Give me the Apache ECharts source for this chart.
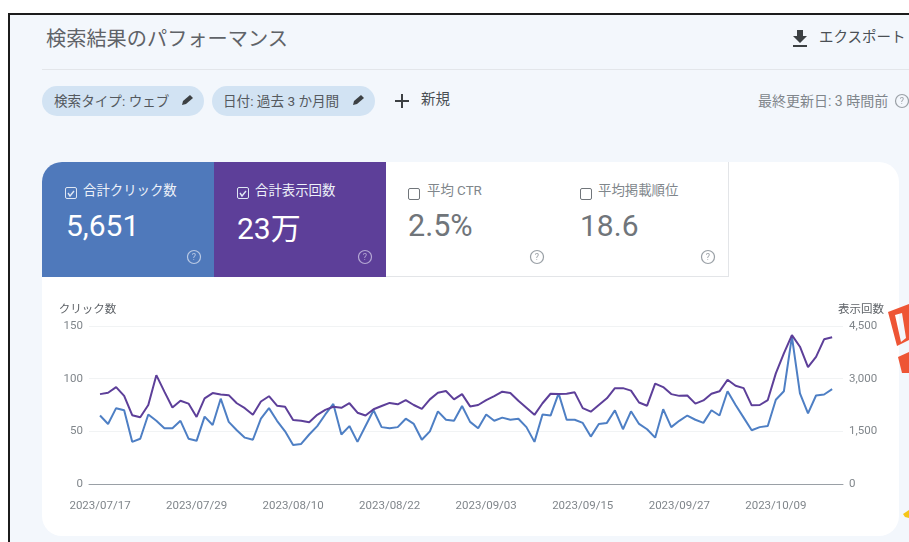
<!DOCTYPE html>
<html lang="ja">
<head>
<meta charset="utf-8">
<title>検索結果のパフォーマンス</title>
<script src="https://cdn.jsdelivr.net/npm/echarts@6/dist/echarts.min.js"></script>
<style>
  html, body { margin: 0; padding: 0; background: #fff; }
  body { width: 909px; height: 542px; overflow: hidden; position: relative;
    font-family: Roboto, "Noto Sans CJK JP", sans-serif; color: #5f6368; }
  .page { position: absolute; left: 8px; top: 13px; width: 901px; height: 529px; background: #f3f7fc;
    border-left: 2px solid #1c1c1c; border-top: 2px solid #1c1c1c; box-sizing: border-box; }
  .abs { position: absolute; white-space: nowrap; }
  .rule { position: absolute; left: 42px; top: 69px; width: 867px; height: 1px; background: #e3e6ea; }
  .chip { position: absolute; top: 86px; height: 30px; border-radius: 15px; background: #d2e3f3; }
  .card { position: absolute; left: 42px; top: 162px; width: 857px; height: 374px; background: #fff; border-radius: 20px; }
  .tile { position: absolute; top: 162px; height: 115px; box-sizing: border-box; }
  .tile.blue { left: 42px; width: 172px; background: #4f79bb; border-top-left-radius: 20px; }
  .tile.purple { left: 214px; width: 172px; background: #5d3f99; }
  .tile.off { width: 172px; background: #fff; border-right: 1px solid #e3e5e8; border-bottom: 1px solid #e3e5e8; }
  .check { position: absolute; width: 10px; height: 10px; border: 1.5px solid #dfe7f4; border-radius: 2px; }
  .check.off { border-color: #70757a; }
  #chart { position: absolute; left: 42px; top: 290px; width: 857px; height: 240px; }
  svg.over { position: absolute; left: 0; top: 0; }
</style>
</head>
<body>
<div class="page"></div>
<div class="rule"></div>
<div class="abs" style="left:46px;top:26px;font-size:20.2px;line-height:26px;color:#5f6368">検索結果のパフォーマンス</div>
<div class="abs" style="left:819px;top:28px;font-size:14.5px;line-height:20px;color:#4a4f54">エクスポート</div>

<div class="chip" style="left:42px;width:162px"></div>
<div class="chip" style="left:212px;width:163px"></div>
<div class="abs" style="left:54px;top:92px;font-size:13.6px;line-height:18px;color:#54595e">検索タイプ: ウェブ</div>
<div class="abs" style="left:223px;top:92px;font-size:13.6px;line-height:18px;color:#54595e">日付: 過去 3 か月間</div>
<div class="abs" style="left:421px;top:91px;font-size:14.5px;line-height:18px;color:#4a4f54">新規</div>
<div class="abs" style="left:758px;top:92px;font-size:14px;line-height:18px;color:#80868b">最終更新日: 3 時間前</div>

<div class="card"></div>
<div class="tile blue"></div>
<div class="tile purple"></div>
<div class="tile off" style="left:386px"></div>
<div class="tile off" style="left:557px"></div>

<div class="check" style="left:65px;top:187px"></div>
<div class="abs" style="left:83px;top:182px;font-size:13.4px;line-height:18px;color:#eef2f9">合計クリック数</div>
<div class="abs" style="left:66px;top:208px;font-size:30px;line-height:36px;color:#fff">5,651</div>
<div class="check" style="left:237px;top:187px"></div>
<div class="abs" style="left:255px;top:182px;font-size:13.4px;line-height:18px;color:#eef2f9">合計表示回数</div>
<div class="abs" style="left:237px;top:211px;font-size:30px;line-height:36px;color:#fff">23万</div>
<div class="check off" style="left:408px;top:188px"></div>
<div class="abs" style="left:427px;top:182px;font-size:13.4px;line-height:18px;color:#80868b">平均 CTR</div>
<div class="abs" style="left:408px;top:208px;font-size:30.5px;line-height:36px;color:#70757a">2.5%</div>
<div class="check off" style="left:580px;top:188px"></div>
<div class="abs" style="left:598px;top:182px;font-size:13.4px;line-height:18px;color:#80868b">平均掲載順位</div>
<div class="abs" style="left:580px;top:208px;font-size:30px;line-height:36px;color:#70757a">18.6</div>

<div id="chart"></div>

<svg class="over" width="909" height="542" fill="none">
  <!-- download, plus and pencil icons -->
  <path d="M797 30h6v6h4l-7 7-7-7h4z" fill="#3c4043"/><rect x="793" y="45" width="14" height="2" fill="#3c4043"/>
  <path d="M402 94v14M395 101h14" stroke="#3c4043" stroke-width="2"/>
  <path d="M182 105l1-4 7-6 3 3-7 6z" fill="#3c4043"/><path d="M353 105l1-4 7-6 3 3-7 6z" fill="#3c4043"/>
  <!-- tile ticks -->
  <path d="M68 193l2 3 4-5" stroke="#dfe7f4" stroke-width="1.4"/><path d="M240 193l2 3 4-5" stroke="#dfe7f4" stroke-width="1.4"/>
  <!-- help icons -->
  <g stroke-width="1.2" font-family="Roboto" font-size="9" text-anchor="middle">
    <circle cx="194" cy="257" r="6.5" stroke="#b9c9e4"/><text x="194" y="260" fill="#b9c9e4">?</text>
    <circle cx="365" cy="257" r="6.5" stroke="#b5a8d4"/><text x="365" y="260" fill="#b5a8d4">?</text>
    <circle cx="537" cy="257" r="6.5" stroke="#9aa0a6"/><text x="537" y="260" fill="#9aa0a6">?</text>
    <circle cx="708" cy="257" r="6.5" stroke="#9aa0a6"/><text x="708" y="260" fill="#9aa0a6">?</text>
    <circle cx="902" cy="101" r="6.5" stroke="#9aa0a6"/><text x="902" y="104" fill="#9aa0a6">?</text>
  </g>
  <!-- marker scribbles on the right edge -->
  <path d="M888 312L909 304V340L897 346zM895 315L902 313L906 338L901 342z" fill="#ee5535" fill-rule="evenodd"/>
  <path d="M898 357L909 352V373H902z" fill="#ee5535"/>
  <path d="M903 514L909 510V518L905 517z" fill="#f5c518"/>
</svg>

<script>
// daily values, 2023/07/17 to 2023/10/16
const clicks = [65, 57, 72, 70, 40, 43, 66, 60, 53, 53, 60, 43, 41, 64, 56, 81, 59, 51, 44, 42, 62, 72, 60, 50, 37, 38, 47, 55, 66, 76,
  47, 55, 40, 55, 70, 54, 53, 54, 62, 57, 42, 50, 69, 61, 60, 74, 59, 53, 66, 60, 63, 61, 62, 54, 40, 66, 65, 86, 61, 61,
  58, 45, 57, 58, 70, 52, 69, 57, 52, 44, 71, 54, 60, 65, 61, 58, 70, 65, 88, 75, 63, 51, 54, 55, 80, 88, 140, 86, 67, 84, 85, 90]
const impressions = [2560, 2600, 2760, 2510, 1960, 1900, 2250, 3100, 2630, 2180, 2370, 2290, 1910, 2440, 2590, 2550, 2530, 2300, 2160, 1970, 2350, 2500, 2230, 2200, 1820, 1800, 1760, 1970, 2110, 2200,
  2170, 2300, 2030, 1950, 2130, 2220, 2310, 2270, 2390, 2250, 2140, 2410, 2600, 2650, 2410, 2560, 2210, 2250, 2390, 2500, 2630, 2590, 2370, 2170, 1970, 2300, 2570, 2560, 2570, 2610,
  2160, 2060, 2250, 2440, 2730, 2730, 2660, 2320, 2230, 2860, 2760, 2560, 2510, 2520, 2290, 2380, 2570, 2640, 2970, 2800, 2730, 2240, 2250, 2390, 3150, 3720, 4240, 3910, 3330, 3620, 4120, 4180]
// labelled days, counted from the first point
const tickDays = [0, 12, 24, 36, 48, 60, 72, 84]
const tickLabels = ['2023/07/17', '2023/07/29', '2023/08/10', '2023/08/22', '2023/09/03', '2023/09/15', '2023/09/27', '2023/10/09']

const withDays = (values) => values.map((v, i) => [i, v])

const chart = echarts.init(document.getElementById('chart'))

const yAxisBase = {
  type: 'value',
  min: 0,
  nameLocation: 'end',
  nameGap: 12,
  axisLine: { show: false },
  axisTick: { show: false },
  splitLine: { lineStyle: { color: '#f1f3f4', width: 1 } },
  axisLabel: { color: '#80868b', fontSize: 11.5, fontFamily: 'Roboto', margin: 6 }
}

chart.setOption({
  animation: false,
  // chart div sits at 42,290 on the page
  grid: { left: 47, right: 56, top: 36, bottom: 46 },
  xAxis: {
    type: 'value',
    min: -1.37,
    max: 92.35,
    axisLine: { show: true, onZero: false, lineStyle: { color: '#9aa0a6', width: 1 } },
    axisTick: { show: false },
    splitLine: { show: false },
    axisLabel: {
      customValues: tickDays,
      formatter: (v) => tickLabels[tickDays.indexOf(v)],
      color: '#80868b',
      fontSize: 11.5,
      fontFamily: 'Roboto',
      margin: 16
    }
  },
  yAxis: [
    {
      ...yAxisBase,
      name: 'クリック数',
      max: 150,
      interval: 50,
      nameTextStyle: { color: '#5f6368', fontSize: 11.5, fontFamily: 'Noto Sans CJK JP', align: 'center', padding: [0, 25, 0, 0] }
    },
    {
      ...yAxisBase,
      name: '表示回数',
      max: 4500,
      interval: 1500,
      nameTextStyle: { color: '#5f6368', fontSize: 11.5, fontFamily: 'Noto Sans CJK JP', align: 'center', padding: [0, 0, 0, 36] },
      axisLabel: { ...yAxisBase.axisLabel, formatter: (v) => v.toLocaleString('en-US') }
    }
  ],
  series: [
    {
      name: 'クリック数',
      type: 'line',
      yAxisIndex: 0,
      data: withDays(clicks),
      showSymbol: false,
      lineStyle: { color: '#4e7fc4', width: 2 },
      z: 2
    },
    {
      name: '表示回数',
      type: 'line',
      yAxisIndex: 1,
      data: withDays(impressions),
      showSymbol: false,
      lineStyle: { color: '#5d3f99', width: 2 },
      z: 3
    }
  ]
})
</script>
</body>
</html>
